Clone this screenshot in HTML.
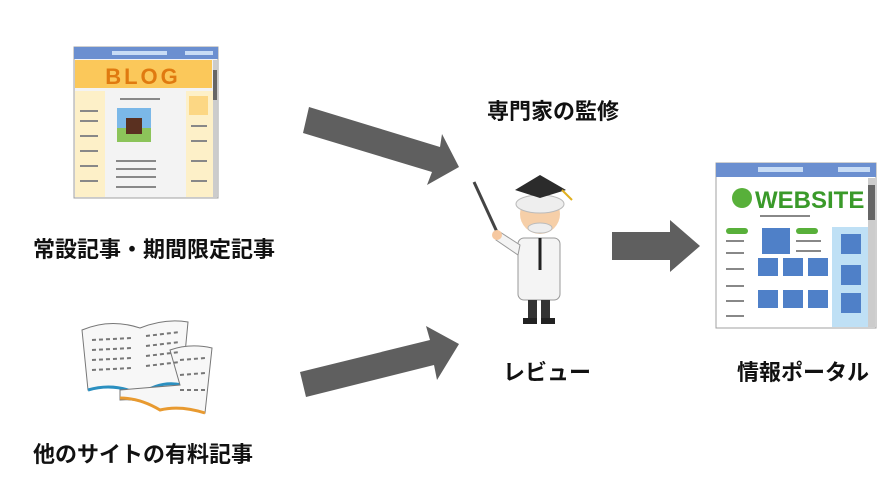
<!DOCTYPE html>
<html><head><meta charset="utf-8"><style>
body{margin:0;background:#fff;width:888px;height:484px;overflow:hidden;position:relative;font-family:"Liberation Sans","Noto Sans CJK JP",sans-serif}
.t{position:absolute;font-weight:bold;font-size:22px;color:#111;white-space:nowrap;line-height:1}
svg{position:absolute;left:0;top:0}
</style></head><body>
<svg width="888" height="484" viewBox="0 0 888 484">
<polygon points="309,107 440,147 442,134 459,167 427,185 432,172 303,133" fill="#5f5f5f"/>
<polygon points="300,372 430,340 426,326 459,344 437,380 434,365 306,397" fill="#5f5f5f"/>
<polygon points="612,232 670,232 670,220 700,246 670,272 670,260 612,260" fill="#5f5f5f"/>
<rect x="74" y="47" width="144" height="151" fill="#f3f3f3" stroke="#a0a0a0"/>
<rect x="74" y="47" width="144" height="12" fill="#6b8fd0"/>
<rect x="112" y="51" width="55" height="4" fill="#c8dcf5"/>
<rect x="185" y="51" width="28" height="4" fill="#c8dcf5"/>
<rect x="75" y="60" width="137" height="28" fill="#fbc85a"/>
<text x="143" y="84" font-family="Liberation Sans" font-weight="bold" font-size="22" letter-spacing="3" fill="#e07a10" text-anchor="middle">BLOG</text>
<rect x="213" y="60" width="4" height="137" fill="#ccc"/><rect x="213" y="70" width="4" height="30" fill="#666"/>
<rect x="75" y="91" width="30" height="106" fill="#fdf0c8"/>
<rect x="186" y="91" width="27" height="106" fill="#fdf0c8"/>
<rect x="189" y="96" width="19" height="19" fill="#fcd784"/>
<rect x="117" y="108" width="34" height="34" fill="#7bb8e8"/>
<rect x="117" y="128" width="34" height="14" fill="#8cc45a"/>
<rect x="126" y="118" width="16" height="16" fill="#5a3020"/>
<g fill="#888"><rect x="80" y="110" width="18" height="2"/><rect x="80" y="120" width="18" height="2"/><rect x="80" y="135" width="18" height="2"/><rect x="80" y="150" width="18" height="2"/><rect x="80" y="165" width="18" height="2"/><rect x="80" y="180" width="18" height="2"/><rect x="116" y="160" width="40" height="2"/><rect x="116" y="168" width="40" height="2"/><rect x="116" y="176" width="40" height="2"/><rect x="116" y="186" width="40" height="2"/><rect x="191" y="125" width="16" height="2"/><rect x="191" y="140" width="16" height="2"/><rect x="191" y="160" width="16" height="2"/><rect x="191" y="180" width="16" height="2"/><rect x="120" y="98" width="40" height="2"/></g>
<rect x="716" y="163" width="160" height="165" fill="#fff" stroke="#a0a0a0"/>
<rect x="716" y="163" width="160" height="14" fill="#6b8fd0"/>
<rect x="758" y="167" width="45" height="5" fill="#c8dcf5"/><rect x="838" y="167" width="32" height="5" fill="#c8dcf5"/>
<rect x="868" y="178" width="7" height="149" fill="#ccc"/><rect x="868" y="185" width="7" height="35" fill="#666"/>
<circle cx="742" cy="198" r="10" fill="#58b03a"/>
<text x="755" y="208" font-family="Liberation Sans" font-weight="bold" font-size="24" fill="#3a9a2a">WEBSITE</text>
<rect x="832" y="227" width="36" height="100" fill="#bfe0f5"/>
<g fill="#4f80c8"><rect x="762" y="228" width="28" height="26"/><rect x="758" y="258" width="20" height="18"/><rect x="783" y="258" width="20" height="18"/><rect x="808" y="258" width="20" height="18"/><rect x="758" y="290" width="20" height="18"/><rect x="783" y="290" width="20" height="18"/><rect x="808" y="290" width="20" height="18"/><rect x="841" y="234" width="20" height="20"/><rect x="841" y="265" width="20" height="20"/><rect x="841" y="293" width="20" height="20"/></g>
<g fill="#58b03a"><rect x="726" y="228" width="22" height="6" rx="3"/><rect x="796" y="228" width="22" height="6" rx="3"/></g>
<g fill="#888"><rect x="726" y="240" width="18" height="2"/><rect x="726" y="252" width="18" height="2"/><rect x="726" y="268" width="18" height="2"/><rect x="726" y="285" width="18" height="2"/><rect x="726" y="300" width="18" height="2"/><rect x="726" y="315" width="18" height="2"/><rect x="796" y="240" width="25" height="2"/><rect x="796" y="250" width="25" height="2"/><rect x="760" y="215" width="50" height="2"/></g>
<line x1="474" y1="182" x2="497" y2="232" stroke="#444" stroke-width="3"/>
<rect x="518" y="238" width="42" height="62" rx="6" fill="#f4f4f4" stroke="#999"/>
<path d="M500 232 L520 245 L518 255 L496 240 Z" fill="#f4f4f4" stroke="#999"/>
<circle cx="497" cy="235" r="5" fill="#f6c8a0"/>
<rect x="528" y="300" width="9" height="20" fill="#333"/><rect x="541" y="300" width="9" height="20" fill="#333"/>
<rect x="523" y="318" width="14" height="6" fill="#222"/><rect x="541" y="318" width="14" height="6" fill="#222"/>
<circle cx="540" cy="214" r="20" fill="#f6cfa8"/>
<ellipse cx="540" cy="204" rx="24" ry="9" fill="#eee" stroke="#bbb"/>
<ellipse cx="540" cy="228" rx="12" ry="5" fill="#eee" stroke="#bbb"/>
<polygon points="515,190 540,175 566,190 540,198" fill="#2b2b2b"/>
<line x1="562" y1="190" x2="572" y2="200" stroke="#e0b020" stroke-width="2"/>
<line x1="540" y1="238" x2="540" y2="270" stroke="#222" stroke-width="3"/>
<path d="M82 330 Q110 318 140 328 Q165 318 188 322 L182 385 Q160 380 140 395 Q115 382 88 390 Z" fill="#f7f7f7" stroke="#777"/>
<path d="M88 390 Q115 382 140 395 Q160 380 182 385" fill="none" stroke="#2a8fc0" stroke-width="3"/>
<path d="M170 350 Q190 343 212 348 L205 413 Q180 405 160 410 Q140 398 120 400 L120 390 L180 385 Z" fill="#f7f7f7" stroke="#777"/>
<path d="M120 398 Q140 398 160 410 Q180 405 205 413" fill="none" stroke="#e89a30" stroke-width="3"/>
<g stroke="#777" stroke-width="2" stroke-dasharray="4 3"><line x1="92" y1="340" x2="132" y2="338"/><line x1="92" y1="350" x2="132" y2="348"/><line x1="92" y1="360" x2="132" y2="358"/><line x1="92" y1="370" x2="132" y2="368"/><line x1="146" y1="336" x2="180" y2="332"/><line x1="146" y1="346" x2="180" y2="342"/><line x1="146" y1="356" x2="180" y2="352"/><line x1="146" y1="366" x2="180" y2="362"/><line x1="180" y1="360" x2="205" y2="358"/><line x1="180" y1="375" x2="205" y2="373"/><line x1="180" y1="390" x2="205" y2="390"/></g>
</svg>
<div class="t" style="left:487px;top:101px">専門家の監修</div>
<div class="t" style="left:33px;top:239px">常設記事・期間限定記事</div>
<div class="t" style="left:33px;top:444px">他のサイトの有料記事</div>
<div class="t" style="left:503px;top:362px">レビュー</div>
<div class="t" style="left:737px;top:362px">情報ポータル</div>
</body></html>
